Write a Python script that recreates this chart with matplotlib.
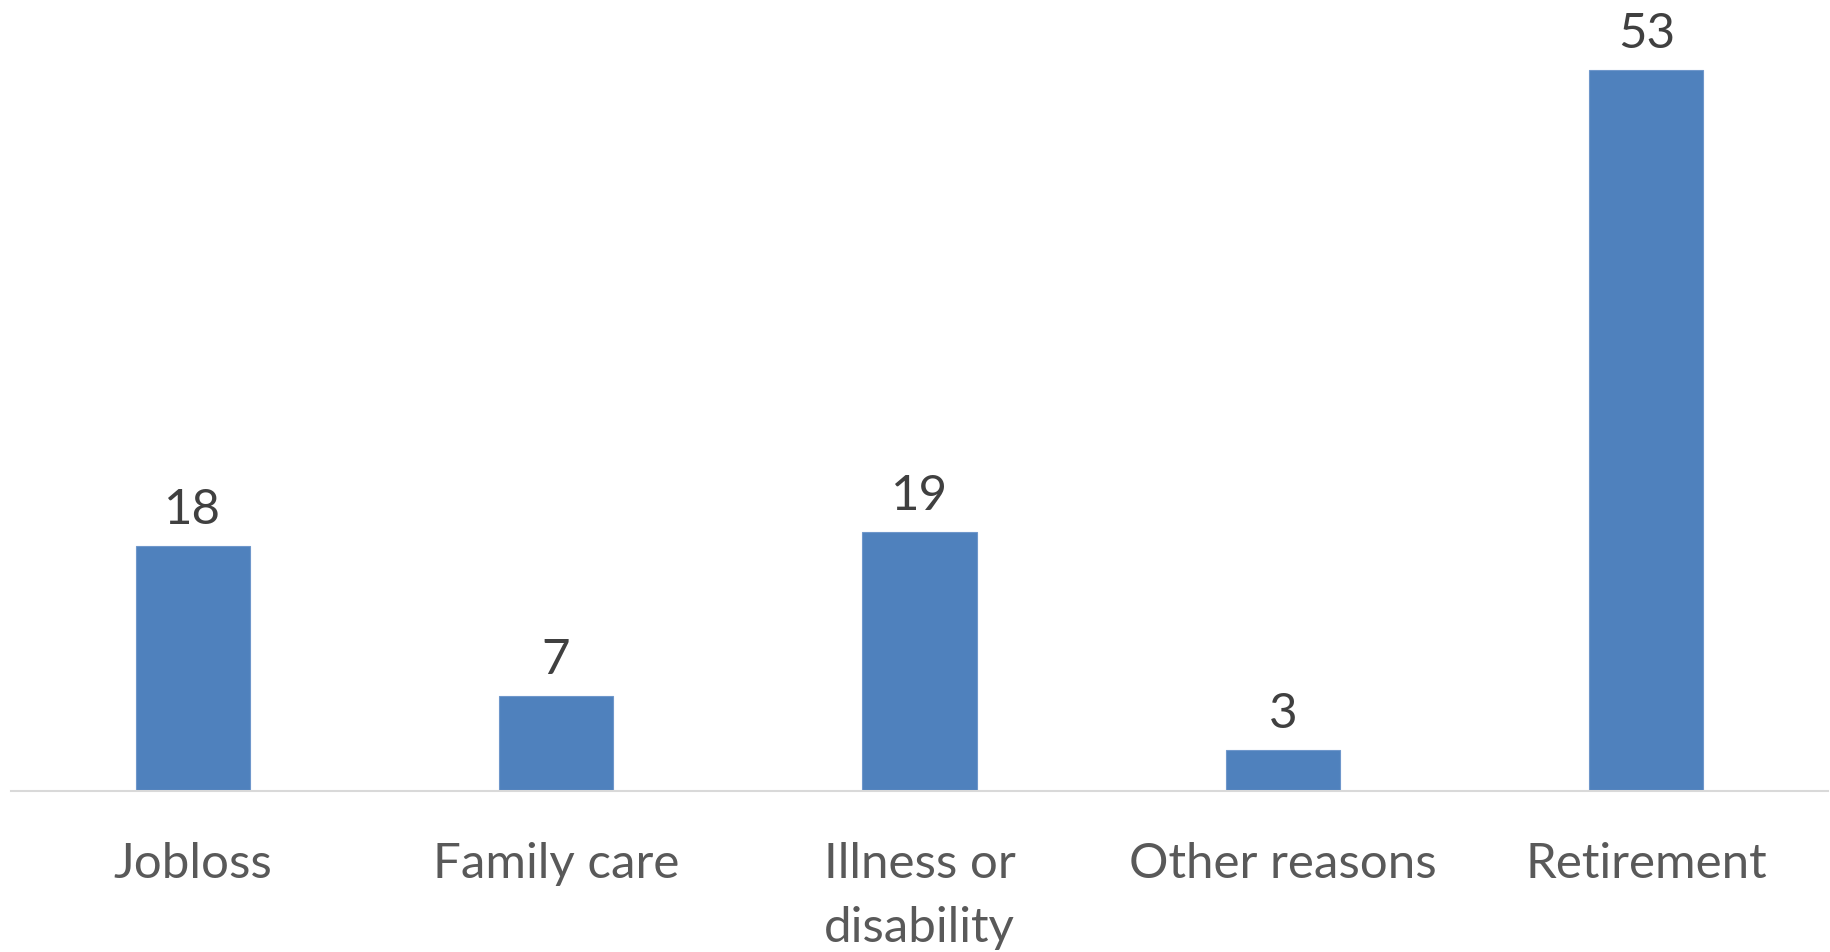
import matplotlib.pyplot as plt
import numpy as np

# data
categories = ["Jobloss", "Family care", "Illness or\ndisability", "Other reasons", "Retirement"]
values = [18, 7, 19, 3, 53]

plt.rcParams['font.family'] = ['Lato', 'DejaVu Sans']

fig = plt.figure(figsize=(18.31, 9.53), dpi=100)
ax = fig.add_axes([11 / 1831, 1 - 792 / 953, 1817 / 1831, 792 / 953])

x = np.arange(len(categories))
bars = ax.bar(x, values, width=0.314, color="#4F81BD", edgecolor="#6F97CB", linewidth=0.8, zorder=2)

ax.set_xlim(-0.5, len(categories) - 0.5)
ax.set_ylim(0, 58.2)

for s in ["top", "right", "left"]:
    ax.spines[s].set_visible(False)
ax.spines["bottom"].set_color("#D9D9D9")
ax.spines["bottom"].set_linewidth(1.5)
ax.set_yticks([])

ax.set_xticks(x)
ax.set_xticklabels(categories, fontsize=35.5, color="#595959", linespacing=1.55, va="top")
ax.tick_params(axis="x", length=0, pad=36)

for xi, v in zip(x, values):
    ax.annotate(str(v), (xi, v), xytext=(0, 15), textcoords="offset pixels",
                ha="center", va="bottom", fontsize=35.5, color="#404040")

fig.savefig("out.png", dpi=100)
